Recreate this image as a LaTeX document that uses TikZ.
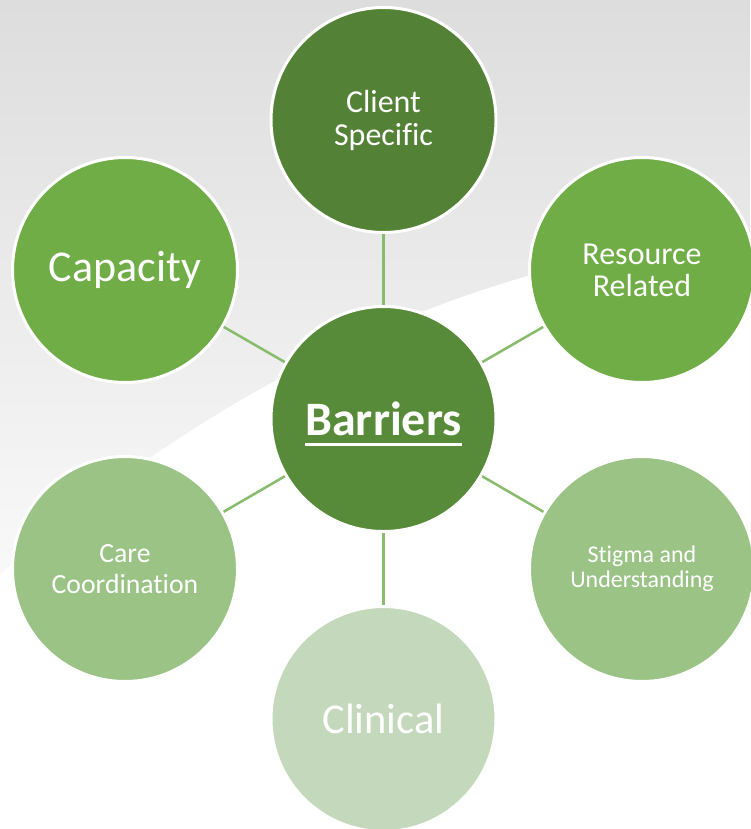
\documentclass[tikz,border=0pt]{standalone}
\usepackage{fontspec}
\setmainfont{Carlito}[Ligatures={NoCommon}]
\definecolor{darkleaf}{HTML}{538135}
\definecolor{midleaf}{HTML}{588B39}
\definecolor{leaf}{HTML}{70AD47}
\definecolor{paleleaf}{HTML}{9BC386}
\definecolor{mistleaf}{HTML}{C4D8BC}
\definecolor{spokegreen}{HTML}{88BB6C}
\definecolor{bgtop}{HTML}{DDDDDD}
\definecolor{bgbot}{HTML}{F8F8F8}

\newsavebox{\ulbox}
\newcommand{\ulword}[1]{\sbox{\ulbox}{#1}\smash{\rlap{\rule[-10pt]{\wd\ulbox}{2.5pt}}}\usebox{\ulbox}}

\begin{document}
\begin{tikzpicture}[x=1pt, y=-1pt,
    bubble/.style={circle, minimum size=225pt, inner sep=0pt, draw=white, line width=3pt, text=white, align=center},
    spoke/.style={draw=spokegreen, line width=2.5pt}]
  % BACKGROUND
  \useasboundingbox (0,0) rectangle (750,829);
  \fill[bgbot] (0,0) rectangle (750,829);
  \shade[top color=bgtop, bottom color=bgbot] (0,0) rectangle (750,560);
  \fill[white] (0,575) .. controls (200,400) and (450,260) .. (750,235) -- (750,829) -- (0,829) -- cycle;

  % NODES
  \node[bubble, fill=midleaf, font=\fontsize{48}{50}\selectfont\bfseries] (barriers) at (383.5,419) {\ulword{Barriers}};
  \node[bubble, fill=darkleaf, font=\fontsize{32}{33}\selectfont] (client) at (383.5,120) {Client\\Specific};
  \node[bubble, fill=leaf, font=\fontsize{32}{32}\selectfont] (resource) at (642,270) {Resource\\Related};
  \node[bubble, fill=paleleaf, font=\fontsize{24}{25}\selectfont] (stigma) at (642,569) {Stigma and\\Understanding};
  \node[bubble, fill=mistleaf, font=\fontsize{42.5}{44}\selectfont] (clinical) at (383.5,719) {Clinical};
  \node[bubble, fill=paleleaf, font=\fontsize{27.7}{31}\selectfont] (care) at (125,569) {Care\\Coordination};
  \node[bubble, fill=leaf, font=\fontsize{44}{46}\selectfont] (capacity) at (125,270) {Capacity};

  % LINES
  \draw[spoke] (barriers) -- (client);
  \draw[spoke] (barriers) -- (resource);
  \draw[spoke] (barriers) -- (stigma);
  \draw[spoke] (barriers) -- (clinical);
  \draw[spoke] (barriers) -- (care);
  \draw[spoke] (barriers) -- (capacity);
\end{tikzpicture}
\end{document}
